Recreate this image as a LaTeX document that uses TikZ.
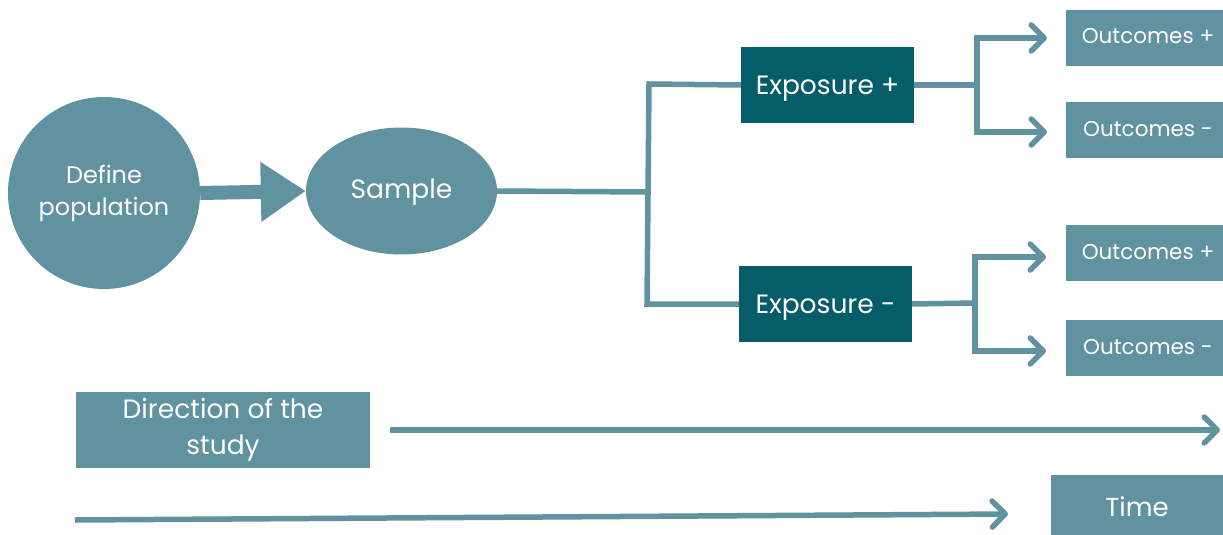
\documentclass[tikz,border=0pt]{standalone}
\usepackage{fontspec}
\setmainfont{Poppins}
\usetikzlibrary{arrows.meta,shapes.geometric}
\definecolor{lteal}{HTML}{6092A0}
\definecolor{dteal}{HTML}{045D69}
\begin{document}
\begin{tikzpicture}[x=1pt,y=-1pt,
  lbox/.style={fill=lteal,text=white,inner sep=0pt,align=center},
  dbox/.style={fill=dteal,text=white,inner sep=0pt,minimum width=173pt,minimum height=76pt,font=\fontsize{26.5}{30}\selectfont,text height=18pt,text depth=0pt},
  obox/.style={lbox,minimum width=164pt,minimum height=56pt,font=\fontsize{21.5}{25}\selectfont,text height=12pt,text depth=0pt},
  conn/.style={draw=lteal,line width=5.5pt},
  arr/.style={conn,-{Straight Barb[length=13pt,width=26pt,round]}}]
\useasboundingbox (0,0) rectangle (1223,535);
% nodes
\node[lbox,circle,minimum size=192pt,font=\fontsize{24}{32}\selectfont] (def) at (104,193) {Define\\population};
\node[fill=lteal,text=white,inner sep=0pt,ellipse,minimum width=191pt,minimum height=127pt,font=\fontsize{26.5}{30}\selectfont,text height=14pt,text depth=0pt] (samp) at (401.5,191) {Sample};
\node[dbox] (expp) at (827.5,85) {Exposure +};
\node[dbox] (expm) at (825.5,304) {Exposure -};
\node[obox] (o1) at (1148,38) {Outcomes +};
\node[obox] (o2) at (1148,130) {Outcomes -};
\node[obox] (o3) at (1148,253) {Outcomes +};
\node[obox] (o4) at (1148,348) {Outcomes -};
\node[lbox,minimum width=294pt,minimum height=76pt,font=\fontsize{26.5}{36}\selectfont] (dir) at (223,430) {Direction of the\\study};
\node[fill=lteal,text=white,inner sep=0pt,minimum width=172pt,minimum height=60pt,font=\fontsize{26}{30}\selectfont,text height=22pt,text depth=0pt] (time) at (1137,505) {Time};
% thick arrow
\draw[draw=lteal,line width=14pt,-{Triangle[length=45pt,width=57pt]}] (def.east) -- (samp.west);
% branching
\coordinate (j0) at (647,192);
\coordinate (jt) at (649,84);
\coordinate (jb) at (647,304);
\draw[conn] (samp.east) -- (j0);
\draw[conn,line join=miter] (expp.west) -- (jt) -- (jb) -- (expm.west);
\coordinate (j1) at (977,85);
\coordinate (t1) at (1047,38);
\coordinate (t2) at (1047,132);
\draw[conn] (expp.east) -- (j1);
\draw[arr] (j1) |- (t1);
\draw[arr] (j1) |- (t2);
\coordinate (j2) at (975,303);
\coordinate (t3) at (1046,257);
\coordinate (t4) at (1046,351);
\draw[conn] (expm.east) -- (j2);
\draw[arr] (j2) |- (t3);
\draw[arr] (j2) |- (t4);
% direction and time arrows
\coordinate (d2) at (1220,430);
\draw[arr] ([xshift=20pt]dir.east) -- (d2);
\coordinate (s1) at (75,520);
\coordinate (s2) at (1008,514);
\draw[arr] (s1) -- (s2);
\end{tikzpicture}
\end{document}
